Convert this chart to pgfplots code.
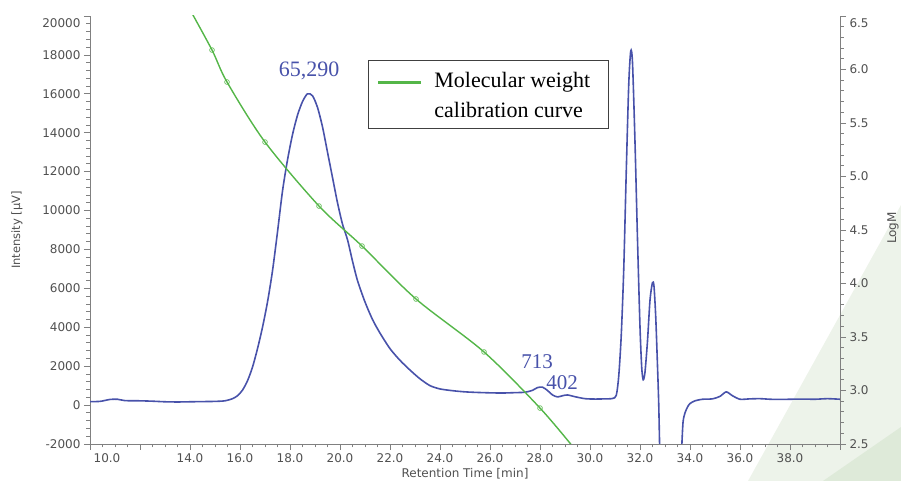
\documentclass[border=0pt]{standalone}
\usepackage{fontspec}
\setmainfont{DejaVu Sans}
\newfontfamily\serif{Liberation Serif}
\usepackage{pgfplots}
\pgfplotsset{compat=1.18}

\definecolor{trace}{RGB}{72,82,170}
\definecolor{calib}{RGB}{84,182,72}
\definecolor{axgray}{RGB}{128,128,128}
\definecolor{lblgray}{RGB}{80,80,80}
\definecolor{bgA}{RGB}{237,243,234}
\definecolor{bgB}{RGB}{222,234,217}

\pgfplotsset{
  chrom/.style={
    scale only axis, width=750pt, height=428pt,
    at={(90pt,37pt)}, anchor=south west,
    xmin=10, xmax=40,
    scaled x ticks=false, scaled y ticks=false,
    tick align=outside,
    major tick length=6pt, minor tick length=3.5pt,
    tick style={axgray, line width=0.8pt},
    axis line style={draw=axgray, line width=0.9pt, -},
    ticklabel style={font=\fontsize{12}{14}\selectfont, text=lblgray},
    label style={font=\fontsize{12}{14}\selectfont, text=lblgray},
  },
}

\begin{document}
\begin{tikzpicture}
% decorative background shapes
\fill[bgA] (748pt,0pt) -- (901pt,276pt) -- (901pt,0pt) -- cycle;
\fill[bgB] (823pt,0pt) -- (901pt,54pt) -- (901pt,0pt) -- cycle;

\begin{axis}[chrom,
  ymin=-2000, ymax=20000,
  axis x line*=bottom, axis y line*=left,
  xtick={10,12,...,40}, minor x tick num=3,
  xticklabels={\hspace*{34pt}10.0,,14.0,16.0,18.0,20.0,22.0,24.0,26.0,28.0,30.0,32.0,34.0,36.0,38.0,},
  ytick={-2000,0,2000,4000,6000,8000,10000,12000,14000,16000,18000,20000},
  yticklabels={-2000,0,2000,4000,6000,8000,10000,12000,14000,16000,18000,\raisebox{-11.3pt}[0pt][0pt]{20000}},
  minor y tick num=4,
  xlabel={Retention Time [min]},
  xlabel style={at={(axis description cs:0.5,0)}, anchor=center, yshift=-30pt},
  ylabel={Intensity [µV]},
  ylabel style={at={(axis description cs:-0.0973,0.5)}, anchor=center, font=\fontsize{11.5}{13}\selectfont},
  clip=true,
]
\addplot[trace, line width=1.6pt, smooth, tension=0.45] coordinates {
(10.0,180) (10.4,190) (10.8,290) (11.1,300) (11.4,230) (12.0,220) (12.5,200)
(13.0,170) (13.5,160) (14.0,170) (14.5,180) (15.0,190) (15.4,220) (15.7,330)
(15.9,480) (16.1,770) (16.3,1250) (16.5,1950) (16.7,2900) (16.9,4000)
(17.1,5300) (17.3,6900) (17.5,8900) (17.7,11000) (17.9,12600) (18.1,13900)
(18.3,14900) (18.5,15600) (18.7,16000) (18.9,15900) (19.1,15300) (19.3,14300)
(19.5,13000) (19.7,11700) (19.9,10400) (20.1,9300) (20.3,8500) (20.5,7400)
(20.7,6400) (21.0,5300) (21.3,4400) (21.6,3700) (22.0,2900) (22.4,2300)
(22.8,1800) (23.2,1350) (23.6,1000) (24.0,830) (24.5,740) (25.0,680)
(25.5,650) (26.0,630) (26.5,620) (27.0,640) (27.4,660) (27.7,760) (27.9,900)
(28.1,920) (28.3,750) (28.5,520) (28.7,420) (28.9,480) (29.1,520) (29.4,430)
(29.8,330) (30.2,310) (30.6,320) (30.9,340) (31.05,500) (31.15,1500)
(31.25,3600) (31.35,7000) (31.45,12000) (31.55,16500) (31.63,18200)
(31.7,17600) (31.8,13500) (31.9,8500) (32.0,4000) (32.07,1900) (32.13,1300)
(32.2,1700) (32.3,3300) (32.4,5400) (32.5,6300) (32.56,6100) (32.63,4500)
(32.7,2000) (32.75,0) (32.8,-3000) (32.85,-5000) (33.6,-5000) (33.66,-2500)
(33.72,-900) (33.8,-400) (33.9,-100) (34.0,80) (34.2,220) (34.5,300)
(34.9,320) (35.2,450) (35.45,680) (35.7,480) (36.0,300) (36.4,320)
(36.8,330) (37.2,300) (37.6,290) (38.0,300) (38.5,310) (39.0,300)
(39.5,330) (40.0,300)
};
\node[text=trace, font=\serif\fontsize{22}{26}\selectfont] at (axis cs:18.76,17170) {65,290};
\node[text=trace, font=\serif\fontsize{21}{25}\selectfont] at (axis cs:27.88,2210) {713};
\node[text=trace, font=\serif\fontsize{21}{25}\selectfont] at (axis cs:28.88,1180) {402};
\end{axis}

\begin{axis}[chrom,
  ymin=2.5, ymax=6.5,
  axis x line=none, axis y line*=right,
  ytick={2.5,3.0,3.5,4.0,4.5,5.0,5.5,6.0,6.5},
  yticklabels={2.5,3.0,3.5,4.0,4.5,5.0,5.5,6.0,\raisebox{-11.3pt}[0pt][0pt]{6.5}},
  minor y tick num=4,
  clip=true,
]
\addplot[calib, line width=1.4pt, smooth] coordinates {
(13.95,6.58) (14.88,6.182) (15.48,5.883) (17.0,5.322) (19.16,4.724)
(20.88,4.350) (23.04,3.855) (25.76,3.360) (28.0,2.836) (29.4,2.45)
};
\addplot[only marks, mark=o, mark size=2.4pt, calib, mark options={line width=0.6pt, fill=white}] coordinates {
(14.88,6.182) (15.48,5.883) (17.0,5.322) (19.16,4.724)
(20.88,4.350) (23.04,3.855) (25.76,3.360) (28.0,2.836)
};
\node[draw=black!75, line width=0.8pt, fill=white, anchor=north west, inner sep=0pt,
      font=\serif\fontsize{22}{30}\selectfont]
  at (axis description cs:0.3707,0.897)
  {\begin{tabular}{@{\hspace{10pt}}l@{\hspace{13pt}}l@{\hspace{18pt}}}
   {\color{calib}\rule[3.5pt]{43pt}{3pt}}\rule{0pt}{27pt} & Molecular weight\\
   \rule[-11pt]{0pt}{0pt} & calibration curve
   \end{tabular}};
\end{axis}

\node[rotate=90, text=lblgray, font=\fontsize{12}{14}\selectfont, inner sep=1pt] at (893pt,253pt) {LogM};

\pgfresetboundingbox
\path[use as bounding box] (0pt,0pt) rectangle (901pt,481pt);
\end{tikzpicture}
\end{document}
